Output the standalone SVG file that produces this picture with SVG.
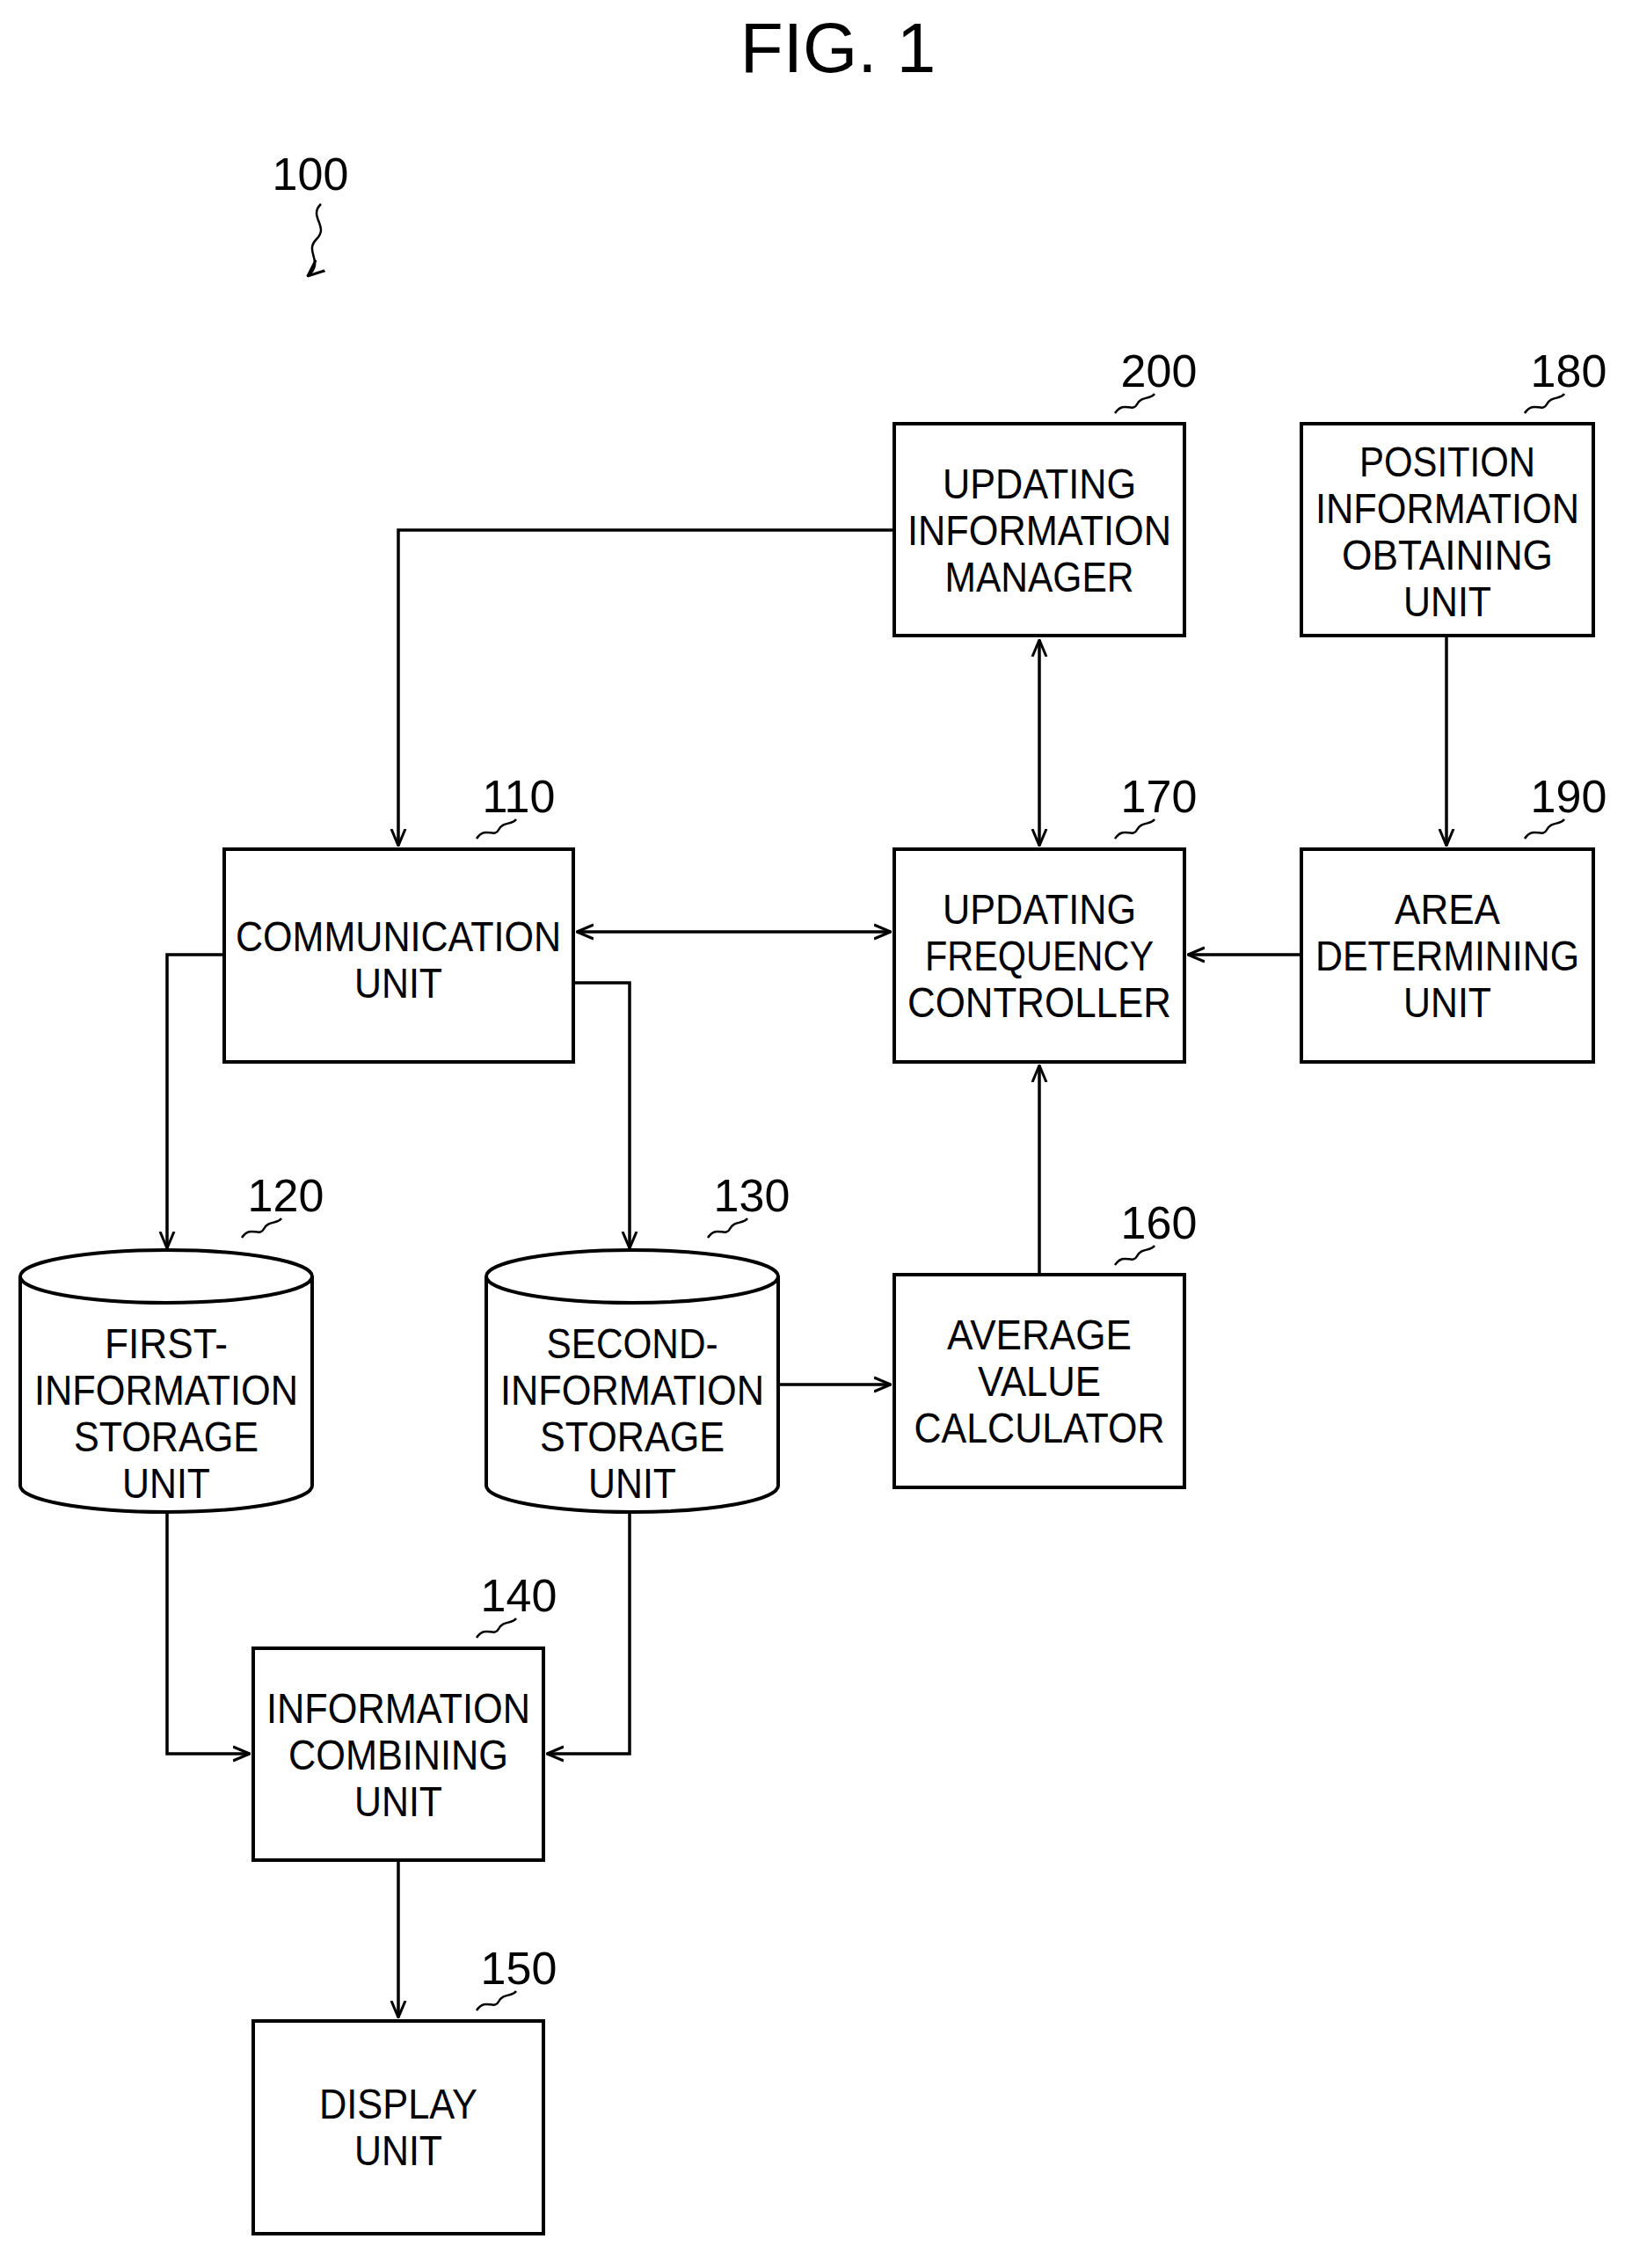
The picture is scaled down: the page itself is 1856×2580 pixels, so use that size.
<svg xmlns="http://www.w3.org/2000/svg" width="1856" height="2580" viewBox="0 0 1856 2580">
<defs>
<marker id="a" viewBox="0 0 20 20" refX="19" refY="10" markerWidth="20" markerHeight="20" markerUnits="userSpaceOnUse" orient="auto-start-reverse"><path d="M0,2 L19,10 L0,18" fill="none" stroke="#000" stroke-width="3"/></marker>
</defs>
<style>
.b{fill:#fff;stroke:#000;stroke-width:4}
.t{font-family:"Liberation Sans",Arial,sans-serif;font-size:48px;text-anchor:middle}
.n{font-family:"Liberation Sans",Arial,sans-serif;font-size:52px;text-anchor:middle}
.c{fill:none;stroke:#000;stroke-width:3.5}
.s{fill:none;stroke:#000;stroke-width:2.5}
</style>
<rect width="1856" height="2580" fill="#fff"/>
<text x="953" y="82" font-family="Liberation Sans,Arial,sans-serif" font-size="80" text-anchor="middle">FIG. 1</text>
<text x="353" y="216" class="n">100</text>
<path class="s" d="M365,232 c-15,15 10,25 -5,40 c-15,15 10,25 -10,42" marker-end="url(#a)"/>
<g id="connectors">
<path class="c" d="M1017,603 H453 V962" marker-end="url(#a)"/>
<path class="c" d="M1182,728 V962" marker-start="url(#a)" marker-end="url(#a)"/>
<path class="c" d="M1645,723 V962" marker-end="url(#a)"/>
<path class="c" d="M656,1060 H1013" marker-start="url(#a)" marker-end="url(#a)"/>
<path class="c" d="M1480,1086 H1351" marker-end="url(#a)"/>
<path class="c" d="M1182,1450 V1212" marker-end="url(#a)"/>
<path class="c" d="M255,1086 H190 V1420" marker-end="url(#a)"/>
<path class="c" d="M652,1118 H716 V1420" marker-end="url(#a)"/>
<path class="c" d="M885,1575 H1013" marker-end="url(#a)"/>
<path class="c" d="M190,1720 V1995 H284" marker-end="url(#a)"/>
<path class="c" d="M716,1720 V1995 H622" marker-end="url(#a)"/>
<path class="c" d="M453,2116 V2295" marker-end="url(#a)"/>
</g>
<g id="n200"><rect class="b" x="1017" y="482" width="330" height="241"/>
<text class="t"><tspan x="1182" y="567" textLength="220" lengthAdjust="spacingAndGlyphs">UPDATING</tspan><tspan x="1182" y="620" textLength="300" lengthAdjust="spacingAndGlyphs">INFORMATION</tspan><tspan x="1182" y="673" textLength="215" lengthAdjust="spacingAndGlyphs">MANAGER</tspan></text>
<text class="n" x="1318" y="440">200</text><path class="s" d="M1268,470 c10,-15 20,0 25,-10 c5,-10 15,-5 20,-12"/></g>
<g id="n180"><rect class="b" x="1480" y="482" width="332" height="241"/>
<text class="t"><tspan x="1646" y="542" textLength="200" lengthAdjust="spacingAndGlyphs">POSITION</tspan><tspan x="1646" y="595" textLength="300" lengthAdjust="spacingAndGlyphs">INFORMATION</tspan><tspan x="1646" y="648" textLength="240" lengthAdjust="spacingAndGlyphs">OBTAINING</tspan><tspan x="1646" y="701" textLength="100" lengthAdjust="spacingAndGlyphs">UNIT</tspan></text>
<text class="n" x="1784" y="440">180</text><path class="s" d="M1734,470 c10,-15 20,0 25,-10 c5,-10 15,-5 20,-12"/></g>
<g id="n110"><rect class="b" x="255" y="966" width="397" height="242"/>
<text class="t"><tspan x="453" y="1082" textLength="370" lengthAdjust="spacingAndGlyphs">COMMUNICATION</tspan><tspan x="453" y="1135" textLength="100" lengthAdjust="spacingAndGlyphs">UNIT</tspan></text>
<text class="n" x="590" y="924">110</text><path class="s" d="M542,954 c10,-15 20,0 25,-10 c5,-10 15,-5 20,-12"/></g>
<g id="n170"><rect class="b" x="1017" y="966" width="330" height="242"/>
<text class="t"><tspan x="1182" y="1051" textLength="220" lengthAdjust="spacingAndGlyphs">UPDATING</tspan><tspan x="1182" y="1104" textLength="260" lengthAdjust="spacingAndGlyphs">FREQUENCY</tspan><tspan x="1182" y="1157" textLength="300" lengthAdjust="spacingAndGlyphs">CONTROLLER</tspan></text>
<text class="n" x="1318" y="924">170</text><path class="s" d="M1268,954 c10,-15 20,0 25,-10 c5,-10 15,-5 20,-12"/></g>
<g id="n190"><rect class="b" x="1480" y="966" width="332" height="242"/>
<text class="t"><tspan x="1646" y="1051" textLength="120" lengthAdjust="spacingAndGlyphs">AREA</tspan><tspan x="1646" y="1104" textLength="300" lengthAdjust="spacingAndGlyphs">DETERMINING</tspan><tspan x="1646" y="1157" textLength="100" lengthAdjust="spacingAndGlyphs">UNIT</tspan></text>
<text class="n" x="1784" y="924">190</text><path class="s" d="M1734,954 c10,-15 20,0 25,-10 c5,-10 15,-5 20,-12"/></g>
<g id="n160"><rect class="b" x="1017" y="1450" width="330" height="242"/>
<text class="t"><tspan x="1182" y="1535" textLength="210" lengthAdjust="spacingAndGlyphs">AVERAGE</tspan><tspan x="1182" y="1588" textLength="140" lengthAdjust="spacingAndGlyphs">VALUE</tspan><tspan x="1182" y="1641" textLength="285" lengthAdjust="spacingAndGlyphs">CALCULATOR</tspan></text>
<text class="n" x="1318" y="1409">160</text><path class="s" d="M1268,1439 c10,-15 20,0 25,-10 c5,-10 15,-5 20,-12"/></g>
<g id="n120"><path class="b" d="M23,1452 V1690 A166,30 0 0 0 355,1690 V1452"/><ellipse class="b" cx="189" cy="1452" rx="166" ry="30"/>
<text class="t"><tspan x="189" y="1545" textLength="140" lengthAdjust="spacingAndGlyphs">FIRST-</tspan><tspan x="189" y="1598" textLength="300" lengthAdjust="spacingAndGlyphs">INFORMATION</tspan><tspan x="189" y="1651" textLength="210" lengthAdjust="spacingAndGlyphs">STORAGE</tspan><tspan x="189" y="1704" textLength="100" lengthAdjust="spacingAndGlyphs">UNIT</tspan></text>
<text class="n" x="325" y="1378">120</text><path class="s" d="M275,1408 c10,-15 20,0 25,-10 c5,-10 15,-5 20,-12"/></g>
<g id="n130"><path class="b" d="M553,1452 V1690 A166,30 0 0 0 885,1690 V1452"/><ellipse class="b" cx="719" cy="1452" rx="166" ry="30"/>
<text class="t"><tspan x="719" y="1545" textLength="195" lengthAdjust="spacingAndGlyphs">SECOND-</tspan><tspan x="719" y="1598" textLength="300" lengthAdjust="spacingAndGlyphs">INFORMATION</tspan><tspan x="719" y="1651" textLength="210" lengthAdjust="spacingAndGlyphs">STORAGE</tspan><tspan x="719" y="1704" textLength="100" lengthAdjust="spacingAndGlyphs">UNIT</tspan></text>
<text class="n" x="855" y="1378">130</text><path class="s" d="M805,1408 c10,-15 20,0 25,-10 c5,-10 15,-5 20,-12"/></g>
<g id="n140"><rect class="b" x="288" y="1875" width="330" height="241"/>
<text class="t"><tspan x="453" y="1960" textLength="300" lengthAdjust="spacingAndGlyphs">INFORMATION</tspan><tspan x="453" y="2013" textLength="250" lengthAdjust="spacingAndGlyphs">COMBINING</tspan><tspan x="453" y="2066" textLength="100" lengthAdjust="spacingAndGlyphs">UNIT</tspan></text>
<text class="n" x="590" y="1833">140</text><path class="s" d="M542,1863 c10,-15 20,0 25,-10 c5,-10 15,-5 20,-12"/></g>
<g id="n150"><rect class="b" x="288" y="2299" width="330" height="242"/>
<text class="t"><tspan x="453" y="2410" textLength="180" lengthAdjust="spacingAndGlyphs">DISPLAY</tspan><tspan x="453" y="2463" textLength="100" lengthAdjust="spacingAndGlyphs">UNIT</tspan></text>
<text class="n" x="590" y="2257">150</text><path class="s" d="M542,2287 c10,-15 20,0 25,-10 c5,-10 15,-5 20,-12"/></g>
</svg>
